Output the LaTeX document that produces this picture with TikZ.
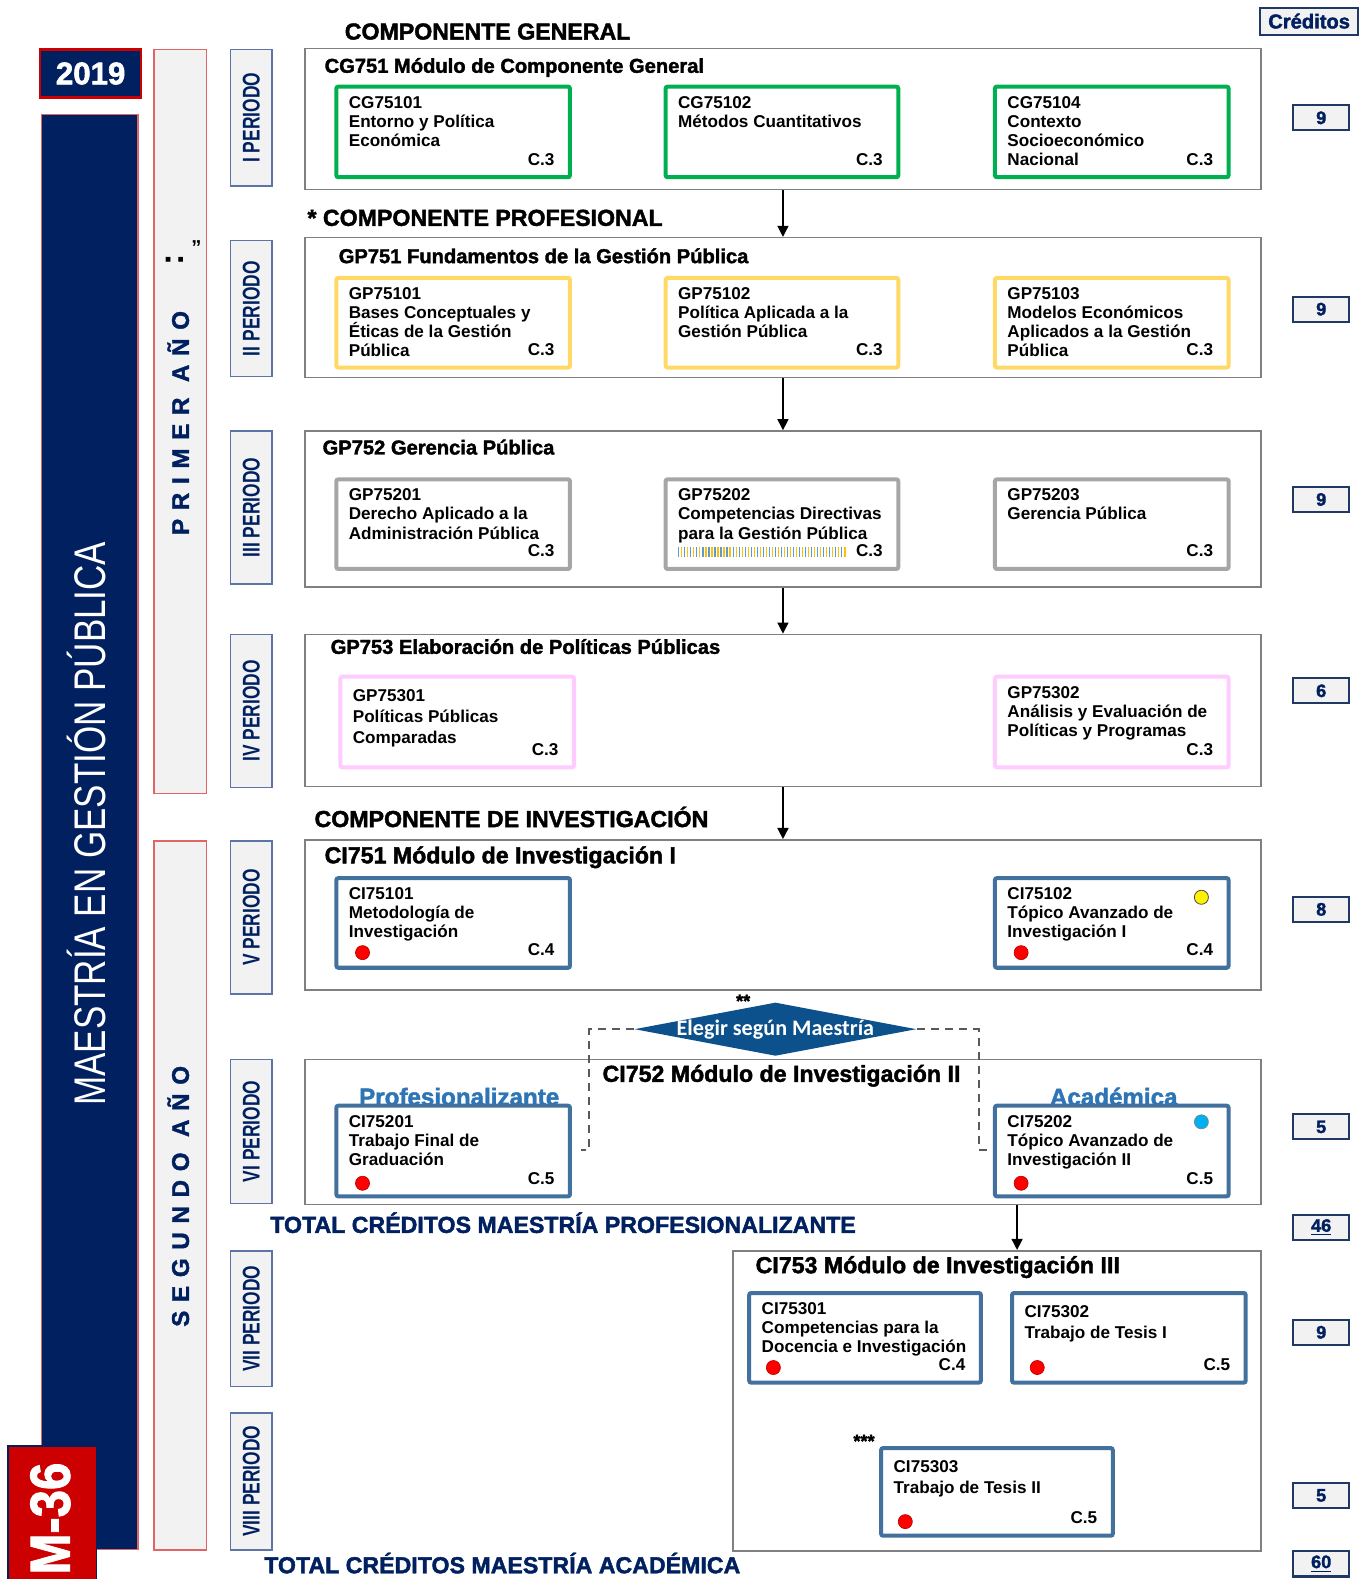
\documentclass[tikz,border=0pt]{standalone}
\usepackage{fontspec}
\usepackage{graphicx}
\setmainfont{Liberation Sans}
\newfontfamily\heavy{Liberation Sans Bold}[FakeBold=1.8]
\newfontfamily\heavysp{Liberation Sans Bold}[FakeBold=1.5,LetterSpace=36]
\newfontfamily\carl{Carlito}
\usetikzlibrary{shapes.geometric,fit,calc,arrows.meta}
\definecolor{navy}{RGB}{0,32,96}
\definecolor{mred}{RGB}{204,0,0}
\definecolor{barred}{RGB}{224,102,102}
\definecolor{lgrey}{RGB}{242,242,242}
\definecolor{perblue}{RGB}{92,116,166}
\definecolor{modgrey}{RGB}{128,128,128}
\definecolor{cgreen}{RGB}{0,176,80}
\definecolor{cyellow}{RGB}{255,217,102}
\definecolor{cgrey}{RGB}{166,166,166}
\definecolor{cpink}{RGB}{255,204,255}
\definecolor{cblue}{RGB}{65,113,156}
\definecolor{dblue}{RGB}{12,80,140}
\definecolor{lblue}{RGB}{46,117,182}
\definecolor{credblue}{RGB}{31,56,100}
\definecolor{stripeb}{RGB}{91,155,213}
\definecolor{stripey}{RGB}{255,192,0}
\tikzset{
  modbox/.style={draw=modgrey,line width=0.8pt,fill=white,inner sep=0pt},
  crs/.style={line width=2pt,fill=white,inner sep=0pt,rounded corners=1pt},
  crstxt/.style={font=\fontsize{8.5}{9.5}\selectfont\bfseries,align=left,inner sep=0pt},
  perbox/.style={draw=perblue,fill=lgrey,line width=0.8pt,inner sep=0pt},
  pertxt/.style={font=\fontsize{12}{12}\selectfont\bfseries,text=navy,inner sep=0pt},
  yearbar/.style={draw=barred,fill=lgrey,line width=0.8pt,inner sep=0pt},
  yeartxt/.style={font=\fontsize{12}{12}\selectfont\heavysp,text=navy,inner sep=0pt},
  cred/.style={draw=credblue,fill=lgrey,line width=1pt,minimum width=28pt,minimum height=12.5pt,inner sep=0pt,font=\fontsize{9}{9}\selectfont\heavy,text=navy},
  modtitle/.style={font=\fontsize{10}{10}\selectfont\heavy,inner sep=0pt,anchor=mid west},
  modtitlebig/.style={font=\fontsize{11.5}{11.5}\selectfont\heavy,inner sep=0pt,anchor=mid west},
  section/.style={font=\fontsize{11.5}{11.5}\selectfont\heavy,inner sep=0pt,anchor=mid west},
  total/.style={font=\fontsize{11.5}{11.5}\selectfont\heavy,text=navy,inner sep=0pt,anchor=mid west},
  arr/.style={-{Triangle[length=5.5pt,width=5.5pt]},line width=0.7pt,black},
  dashln/.style={draw=black!65,line width=0.8pt,dash pattern=on 4pt off 3pt},
  reddot/.style={circle,fill=red,draw=red!70!black,line width=0.3pt,minimum size=7pt,inner sep=0pt},
}
\newcommand\course[9]{%
  \node[crs,draw=#6,fit={(#2,#3)(#4,#5)}] (#1) {};
  \node[crstxt,anchor=north west,#9] (#1-t) at ($(#1.north west)+(14,11)$) {#7};
  \node[crstxt,anchor=base east] (#1-c) at ($(#1.south east)+(-17,-14)$) {#8};
}
\newcommand\module[5]{%
  \node[modbox,fit={(#2,#3)(#4,#5)}] (#1) {};
}
\newcommand\period[4]{%
  \node[perbox,fit={(229,#2)(270,#3)}] (#1) {};
  \node[pertxt,rotate=90] (#1-l) at (#1.center) {\scalebox{0.72}[1]{#4}};
}
\begin{document}
\begin{tikzpicture}[x=0.5pt,y=-0.5pt]
\useasboundingbox (0,0) rectangle (1358,1568);
\fill[white] (0,0) rectangle (1358,1568);

% left bars
\node[draw=mred,fill=navy,line width=1.2pt,inner sep=0pt,fit={(40,49)(140,97)}] (year) {};
\node[font=\fontsize{15.5}{15.5}\selectfont\heavy,text=white,inner sep=0pt] (yeart) at (year.center) {2019};
\node[draw=barred,fill=navy,line width=0.6pt,inner sep=0pt,fit={(41,114)(137,1539)}] (navybar) {};
\node[rotate=90,text=white,font=\fontsize{22}{22}\selectfont,inner sep=0pt] (title) at (86,818) {\scalebox{0.79}[1]{MAESTRÍA EN GESTIÓN PÚBLICA}};
\node[draw=navy,fill=mred,line width=0.6pt,inner sep=0pt,fit={(8,1436)(96,1572)}] (mbox) {};
\node[rotate=90,text=white,font=\fontsize{28}{28}\selectfont\heavy,inner sep=0pt] (mt) at (50,1508) {\scalebox{0.87}[1]{M-36}};

\node[yearbar,fit={(153,49)(205,788)}] (y1) {};
\node[yeartxt,rotate=90] (y1t) at (177,420) {PRIMER AÑO};
\node[rotate=90,font=\fontsize{17}{17}\selectfont\bfseries,inner sep=0pt] (y1d) at (174,258) {:};
\node[font=\fontsize{10}{10}\selectfont\bfseries,inner sep=0pt] (y1q) at (195,246) {”};
\node[yearbar,fit={(153,835)(205,1539)}] (y2) {};
\node[yeartxt,rotate=90] (y2t) at (177,1188) {SEGUNDO AÑO};

% periods
\period{p1}{49}{185}{I PERIODO}
\period{p2}{239}{374}{II PERIODO}
\period{p3}{428}{580}{III PERIODO}
\period{p4}{630}{782}{IV PERIODO}
\period{p5}{835}{987}{V PERIODO}
\period{p6}{1052}{1195}{VI PERIODO}
\period{p7}{1242}{1377}{VII PERIODO}
\period{p8}{1403}{1539}{VIII PERIODO}

% section headers
\node[section] (s1) at (342,34) {COMPONENTE GENERAL};
\node[section] (s2) at (305,219) {* COMPONENTE PROFESIONAL};
\node[section] (s3) at (312,816) {COMPONENTE DE INVESTIGACIÓN};
\node[total] (tot1) at (268,1219) {TOTAL CRÉDITOS MAESTRÍA PROFESIONALIZANTE};
\node[total] (tot2) at (262,1557) {TOTAL CRÉDITOS MAESTRÍA ACADÉMICA};

% modules
\module{cg751}{303}{48}{1252}{188}
\module{gp751}{303}{236}{1252}{375}
\module{gp752}{303}{428}{1252}{583}
\module{gp753}{303}{630}{1252}{781}
\module{ci751}{303}{834}{1252}{983}
\module{ci752}{303}{1052}{1252}{1196}
\module{ci753}{728}{1242}{1252}{1540}

\node[modtitle] (cg751-t) at (322,67) {CG751 Módulo de Componente General};
\node[modtitle] (gp751-t) at (336,256) {GP751 Fundamentos de la Gestión Pública};
\node[modtitle] (gp752-t) at (320,446) {GP752 Gerencia Pública};
\node[modtitle] (gp753-t) at (328,644) {GP753 Elaboración de Políticas Públicas};
\node[modtitlebig] (ci751-t) at (322,852) {CI751 Módulo de Investigación I};
\node[modtitlebig] (ci752-t) at (598,1069) {CI752 Módulo de Investigación II};
\node[modtitlebig] (ci753-t) at (750,1259) {CI753 Módulo de Investigación III};

% courses
\course{cg1}{334}{86}{566}{176}{cgreen}{CG75101\\Entorno y Política\\Económica}{C.3}{}
\course{cg2}{661}{86}{892}{176}{cgreen}{CG75102\\Métodos Cuantitativos}{C.3}{}
\course{cg4}{988}{86}{1220}{176}{cgreen}{CG75104\\Contexto\\Socioeconómico\\Nacional}{C.3}{}

\course{gp11}{334}{276}{566}{365}{cyellow}{GP75101\\Bases Conceptuales y\\Éticas de la Gestión\\Pública}{C.3}{}
\course{gp12}{661}{276}{892}{365}{cyellow}{GP75102\\Política Aplicada a la\\Gestión Pública}{C.3}{}
\course{gp13}{988}{276}{1220}{365}{cyellow}{GP75103\\Modelos Económicos\\Aplicados a la Gestión\\Pública}{C.3}{}

\course{gp21}{334}{476}{566}{565}{cgrey}{GP75201\\Derecho Aplicado a la\\Administración Pública}{C.3}{}
\course{gp22}{661}{476}{892}{565}{cgrey}{GP75202\\Competencias Directivas\\para la Gestión Pública}{C.3}{}
\course{gp23}{988}{476}{1220}{565}{cgrey}{GP75203\\Gerencia Pública}{C.3}{}
\foreach \i in {0,...,27} {
  \draw[stripeb,line width=0.6pt] ({674+6*\i},543) -- ({674+6*\i},553);
  \draw[stripey,line width=0.6pt] ({677+6*\i},543) -- ({677+6*\i},553);
}

\course{gp31}{338}{672}{570}{762}{cpink}{GP75301\\Políticas Públicas\\Comparadas}{C.3}{font=\fontsize{8.5}{10.5}\selectfont\bfseries,yshift=-1.5pt}
\course{gp32}{988}{672}{1220}{762}{cpink}{GP75302\\Análisis y Evaluación de\\Políticas y Programas}{C.3}{}

\course{ci11}{334}{872}{566}{961}{cblue}{CI75101\\Metodología de\\Investigación}{C.4}{}
\course{ci12}{988}{872}{1220}{961}{cblue}{CI75102\\Tópico Avanzado de\\Investigación I}{C.4}{}

\node[font=\fontsize{12}{12}\selectfont\heavy,text=lblue,inner sep=0pt] (prof) at (456,1089) {Profesionalizante};
\node[font=\fontsize{12}{12}\selectfont\heavy,text=lblue,inner sep=0pt] (acad) at (1106,1089) {Académica};
\course{ci21}{334}{1098}{566}{1188}{cblue}{CI75201\\Trabajo Final de\\Graduación}{C.5}{}
\course{ci22}{988}{1098}{1220}{1188}{cblue}{CI75202\\Tópico Avanzado de\\Investigación II}{C.5}{}

\course{ci31}{744}{1284}{974}{1373}{cblue}{CI75301\\Competencias para la\\Docencia e Investigación}{C.4}{}
\course{ci32}{1005}{1284}{1237}{1373}{cblue}{CI75302\\Trabajo de Tesis I}{C.5}{font=\fontsize{8.5}{10.5}\selectfont\bfseries,yshift=-1.5pt}
\course{ci33}{875}{1438}{1105}{1525}{cblue}{CI75303\\Trabajo de Tesis II}{C.5}{font=\fontsize{8.5}{10.5}\selectfont\bfseries,yshift=-1.5pt}
\node[font=\fontsize{9}{9}\selectfont\heavy,inner sep=0pt] (ast3) at (858,1431) {***};

% dots
\node[reddot] (d1) at (360,946) {};
\node[reddot] (d2) at (1014,946) {};
\node[reddot] (d3) at (360,1175) {};
\node[reddot] (d4) at (1014,1175) {};
\node[reddot] (d5) at (768,1358) {};
\node[reddot] (d6) at (1030,1358) {};
\node[reddot] (d7) at (899,1511) {};
\node[circle,fill=yellow,draw=black!70,line width=0.4pt,minimum size=7pt,inner sep=0pt] (dy) at (1193,891) {};
\node[circle,fill={rgb,255:red,0;green,176;blue,240},draw=black!50,line width=0.3pt,minimum size=7pt,inner sep=0pt] (dc) at (1193,1114) {};

% diamond
\node[diamond,fill=dblue,minimum width=140pt,minimum height=26.5pt,inner sep=0pt] (dia) at (770,1022) {};
\node[font=\fontsize{11}{11}\selectfont\carl\bfseries,text=white,inner sep=0pt] (diat) at (dia.center) {Elegir según Maestría};
\node[font=\fontsize{9}{9}\selectfont\heavy,inner sep=0pt] (ast2) at (738,994) {**};
\coordinate (dl1) at (585,1022);
\coordinate (dl2) at (585,1142);
\coordinate (dl3) at (577,1142);
\coordinate (dr1) at (972,1022);
\coordinate (dr2) at (972,1142);
\coordinate (dr3) at (980,1142);
\draw[dashln] (dia.west) -- (dl1) -- (dl2) -- (dl3);
\draw[dashln] (dia.east) -- (dr1) -- (dr2) -- (dr3);

% arrows
\draw[arr] (cg751.south) -- (gp751.north);
\draw[arr] (gp751.south) -- (gp752.north);
\draw[arr] (gp752.south) -- (gp753.north);
\draw[arr] (gp753.south) -- (ci751.north);
\coordinate (ax) at (1010,1200);
\draw[arr] (ci752.south -| ax) -- (ci753.north -| ax);

% credits
\node[cred,minimum width=48.5pt,minimum height=13.5pt,font=\fontsize{10}{10}\selectfont\heavy] (kh) at (1300,21) {Créditos};
\node[cred] (k1) at (1312,117) {9};
\node[cred] (k2) at (1312,307) {9};
\node[cred] (k3) at (1312,496) {9};
\node[cred] (k4) at (1312,686) {6};
\node[cred] (k5) at (1312,903) {8};
\node[cred] (k6) at (1312,1119) {5};
\node[cred] (k7) at (1312,1219) {\underline{46}};
\node[cred] (k8) at (1312,1323) {9};
\node[cred] (k9) at (1312,1485) {5};
\node[cred] (k10) at (1312,1553) {\underline{60}};
\end{tikzpicture}
\end{document}
